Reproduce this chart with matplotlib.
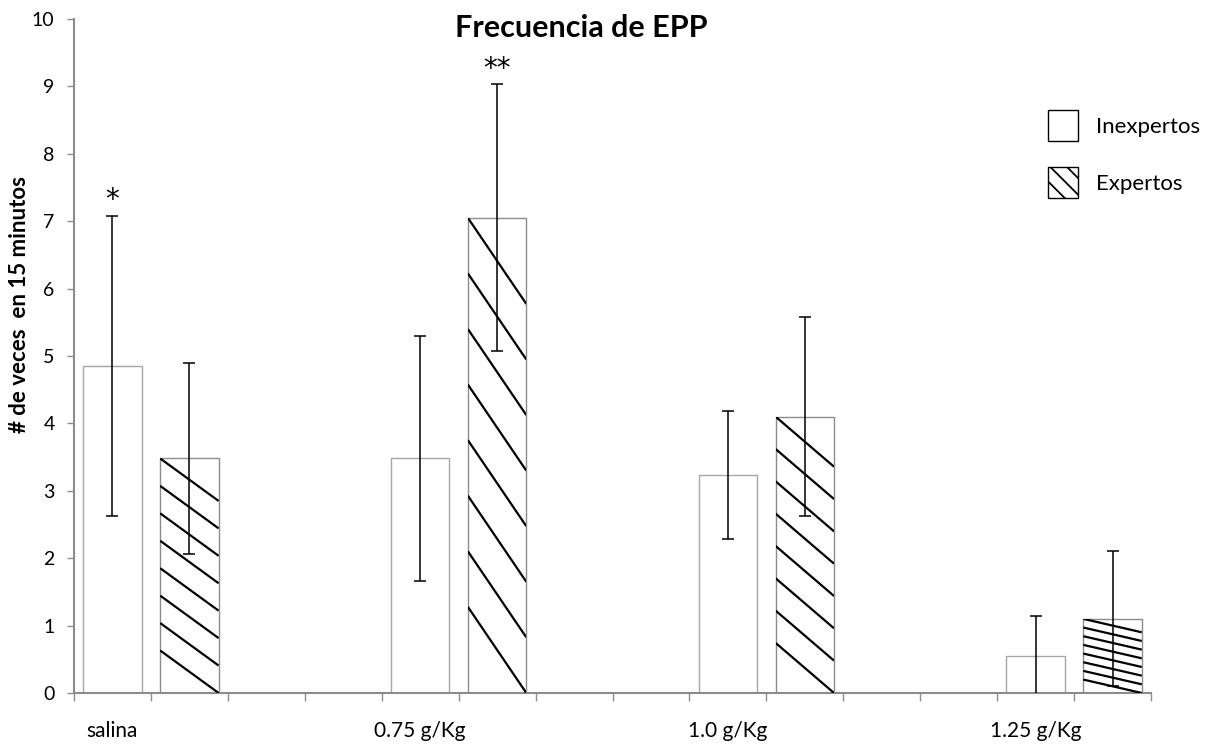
import matplotlib
matplotlib.use('Agg')

import matplotlib.pyplot as plt
from matplotlib.patches import Patch
import numpy as np

plt.rcParams['font.family'] = ['Lato', 'DejaVu Sans']
plt.rcParams['hatch.linewidth'] = 1.3

# ---- datos ----
grupos = ['salina', '0.75 g/Kg', '1.0 g/Kg', '1.25 g/Kg']
inexpertos = [4.85, 3.48, 3.23, 0.55]
inexpertos_err = [2.23, 1.82, 0.95, 0.59]
expertos = [3.48, 7.05, 4.10, 1.10]
expertos_err = [1.42, 1.98, 1.48, 1.00]
marcas_inexp = ['*', '', '', '']
marcas_exp = ['', '**', '', '']

gris = '#8c8c8c'
n_slots = 4 * len(grupos) - 2
pos_inexp = np.arange(len(grupos)) * 4
pos_exp = pos_inexp + 1
ancho = 0.76

fig = plt.figure(figsize=(12.1, 7.44), dpi=100)
ax = fig.add_axes([74 / 1210, 51 / 744, (1151 - 74) / 1210, (693 - 19) / 744])

barras_i = ax.bar(pos_inexp, inexpertos, ancho, color='white', edgecolor='#a6a6a6', linewidth=1.0, zorder=2)
barras_e = ax.bar(pos_exp, expertos, ancho, color='white', edgecolor='#8c8c8c', linewidth=1.0, zorder=2)

# rayado estirado tipo Excel: 8 lineas por barra
for p in barras_e:
    x0, w, h = p.get_x(), p.get_width(), p.get_height()
    s = h / 8.55
    d = 1.55 * s
    for i in range(8):
        yt = h - i * s
        ln, = ax.plot([x0, x0 + w], [yt, yt - d], color='black', lw=1.6,
                      solid_capstyle='butt', zorder=3)
        ln.set_clip_path(p)

ax.errorbar(pos_inexp, inexpertos, yerr=inexpertos_err, fmt='none', ecolor='black',
            elinewidth=1.1, capsize=4, capthick=1.1, zorder=4)
ax.errorbar(pos_exp, expertos, yerr=expertos_err, fmt='none', ecolor='black',
            elinewidth=1.1, capsize=4, capthick=1.1, zorder=4)

for pos, vals, errs, marcas in [(pos_inexp, inexpertos, inexpertos_err, marcas_inexp),
                                (pos_exp, expertos, expertos_err, marcas_exp)]:
    for x, v, e, m in zip(pos, vals, errs, marcas):
        if m:
            ax.annotate(m, (x, v + e), xytext=(0, 1), textcoords='offset points',
                        ha='center', va='bottom', fontsize=20, family='DejaVu Sans')

ax.set_xlim(-0.5, n_slots - 0.5)
ax.set_ylim(0, 10)
ax.set_yticks(range(0, 11))
ax.tick_params(axis='y', length=5, color=gris, width=1, labelsize=14, pad=9)

ax.set_xticks(pos_inexp)
ax.set_xticklabels(grupos)
ax.set_xticks(np.arange(-0.5, n_slots, 1.0), minor=True)
ax.tick_params(axis='x', which='major', length=0, labelsize=15, pad=20)
ax.tick_params(axis='x', which='minor', length=6, color=gris, width=1)

for lado in ['top', 'right']:
    ax.spines[lado].set_visible(False)
for lado in ['left', 'bottom']:
    ax.spines[lado].set_color(gris)
    ax.spines[lado].set_linewidth(1.5)

fig.text(581 / 1210, 1 - 28 / 744, 'Frecuencia de EPP', ha='center', va='center',
         fontsize=22, fontweight='bold')
fig.text(20 / 1210, 1 - 304 / 744, '# de veces  en 15 minutos', rotation=90,
         ha='center', va='center', fontsize=16, fontweight='bold')

handles = [Patch(facecolor='white', edgecolor='black', linewidth=1.0),
           Patch(facecolor='white', edgecolor='black', linewidth=1.0, hatch='\\\\')]
fig.legend(handles, ['Inexpertos', 'Expertos'], loc='upper left',
           bbox_to_anchor=(1048 / 1210, 1 - 110 / 744), bbox_transform=fig.transFigure,
           frameon=False, fontsize=16, borderpad=0, borderaxespad=0,
           handlelength=1.35, handleheight=1.75, labelspacing=1.2, handletextpad=0.8)

plt.savefig('out.png', dpi=100)
plt.close()
